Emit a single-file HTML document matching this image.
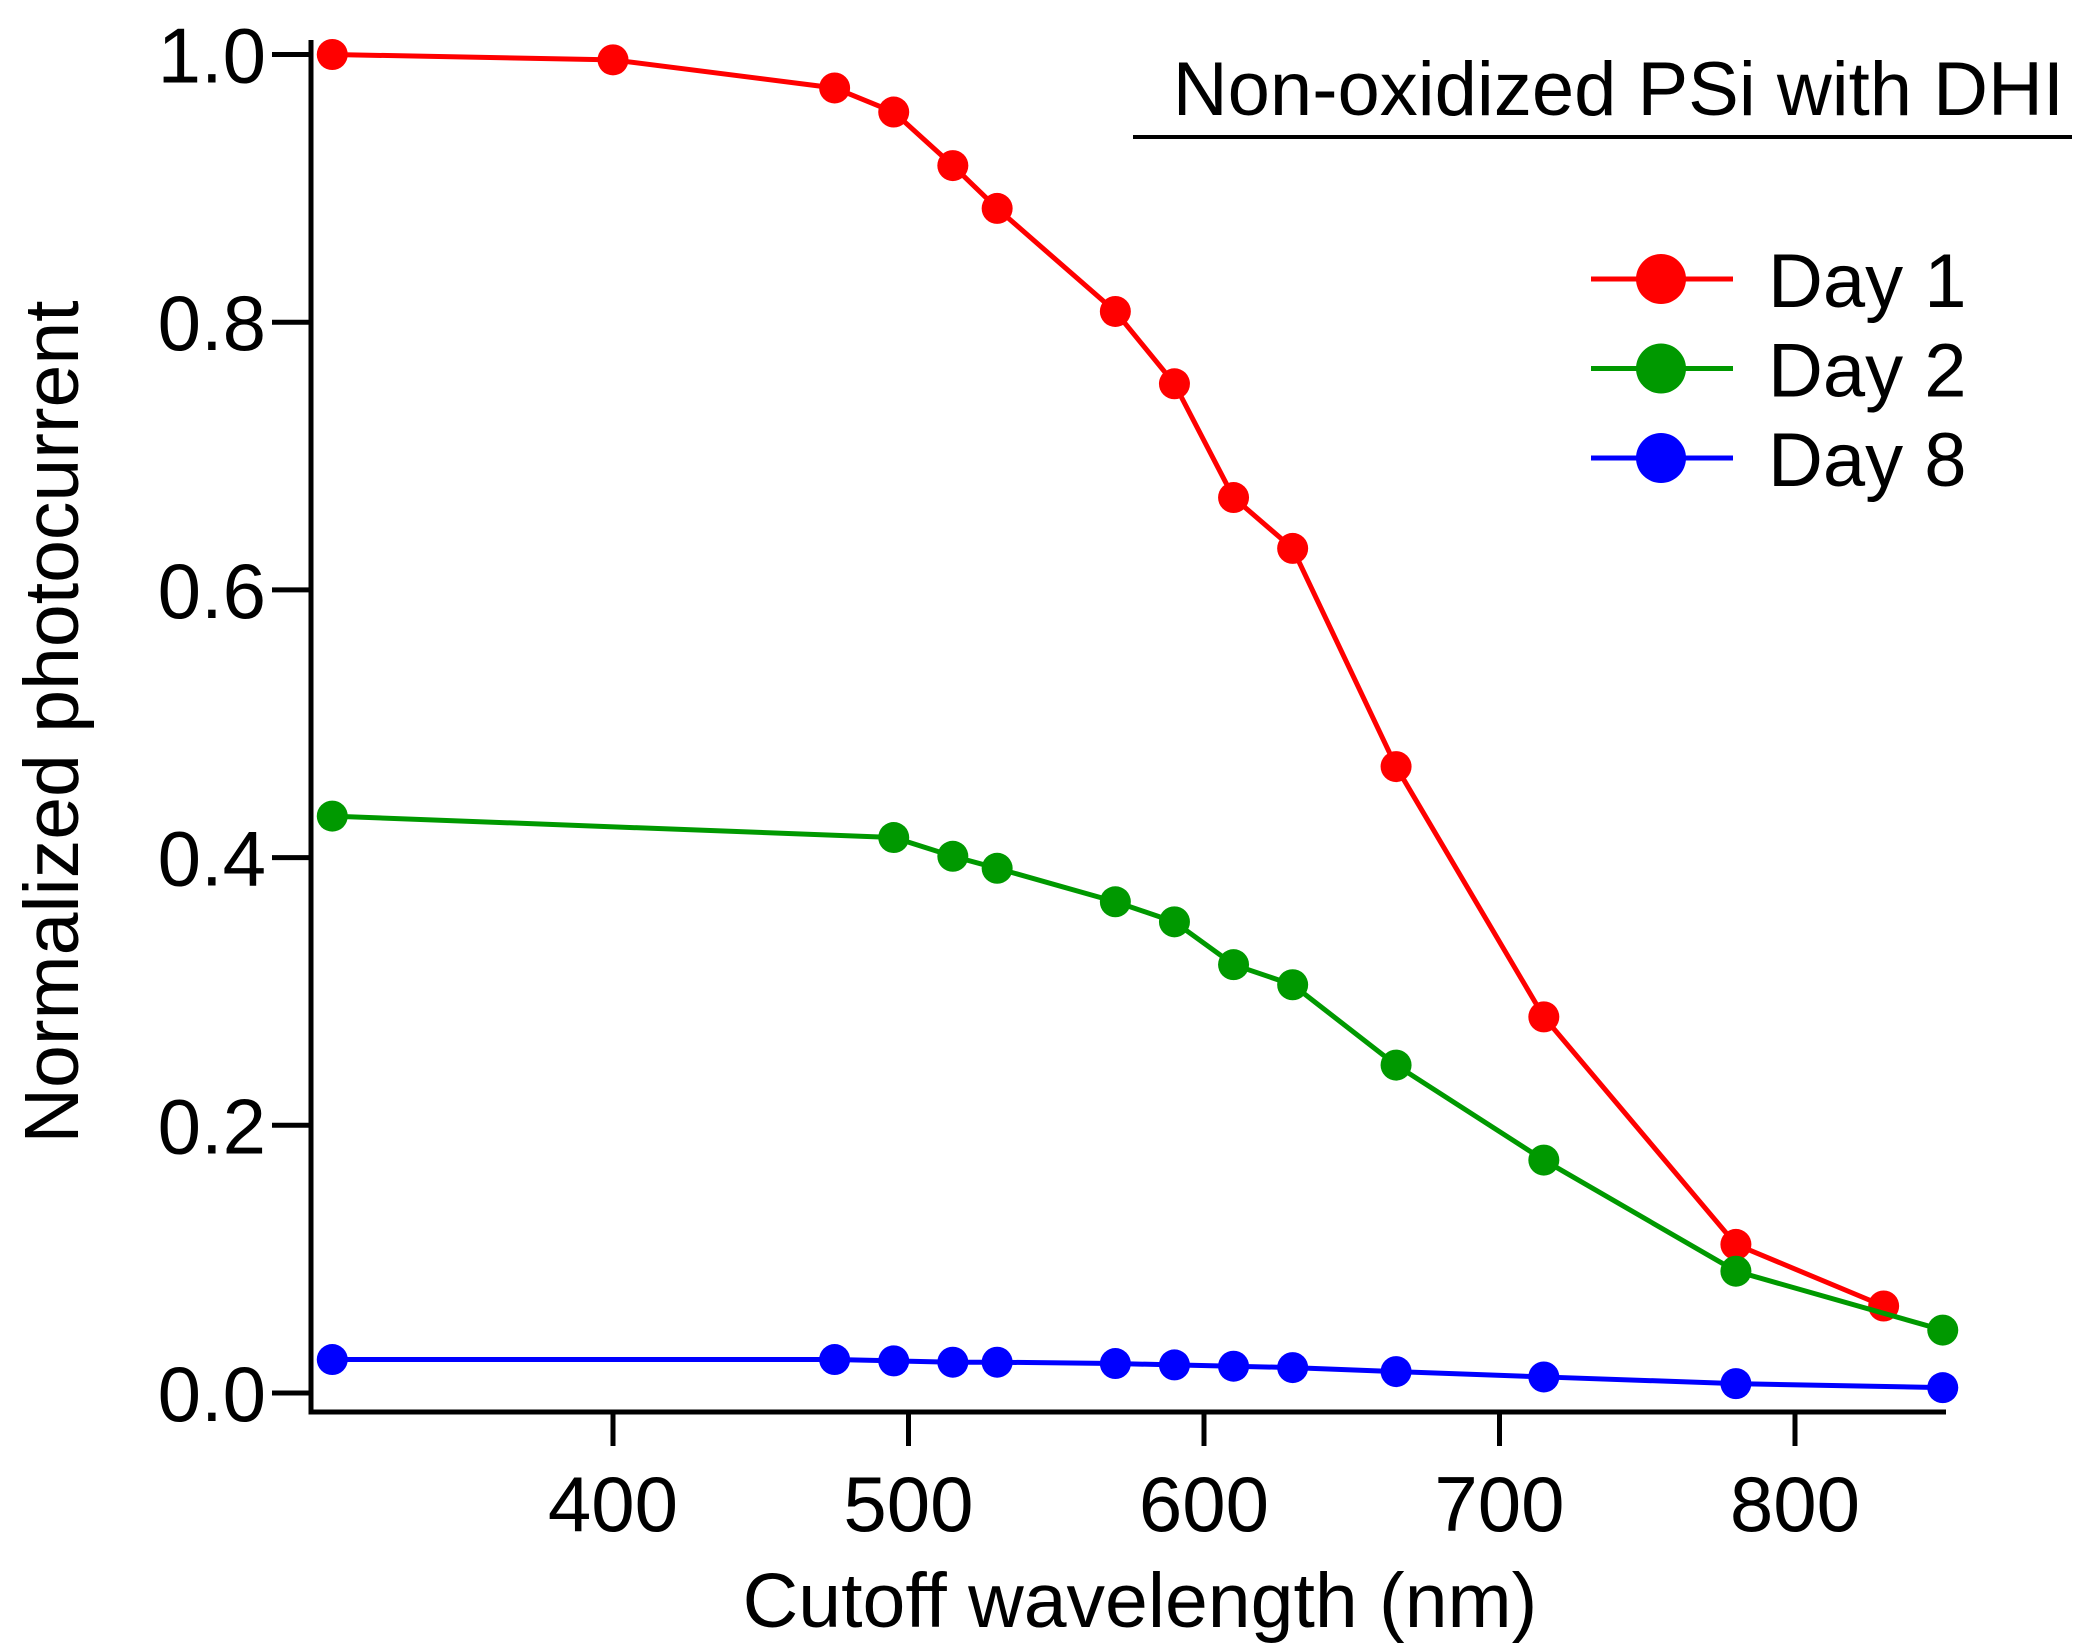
<!DOCTYPE html>
<html><head><meta charset="utf-8"><style>
html,body{margin:0;padding:0;background:#fff;}
svg{display:block;font-family:"Liberation Sans",Arial,sans-serif;}
</style></head><body>
<svg id="chart" width="2082" height="1651" viewBox="0 0 2082 1651"></svg>
<script>
const xTicks = [400, 500, 600, 700, 800];
const yTicks = [0.0, 0.2, 0.4, 0.6, 0.8, 1.0];
const day1X = [305,400,475,495,515,530,570,590,610,630,665,715,780,830];
const day1Y = [1.0,0.996,0.975,0.957,0.917,0.885,0.808,0.754,0.669,0.631,0.468,0.281,0.111,0.065];
const day2X = [305,495,515,530,570,590,610,630,665,715,780,850];
const day2Y = [0.431,0.415,0.401,0.392,0.367,0.352,0.320,0.305,0.245,0.174,0.091,0.047];
const day8X = [305,475,495,515,530,570,590,610,630,665,715,780,850];
const day8Y = [0.025,0.025,0.024,0.023,0.023,0.022,0.021,0.020,0.019,0.016,0.012,0.007,0.004];
const seriesNames = ["Day 1","Day 2","Day 8"];

const NS="http://www.w3.org/2000/svg";
const svg=document.getElementById('chart');
function xs(v){return 613+(v-400)*2.955;}
function ys(v){return 1393-v*1338.5;}
function mk(tag,attrs,parent){const e=document.createElementNS(NS,tag);for(const k in attrs)e.setAttribute(k,attrs[k]);(parent||svg).appendChild(e);return e;}

const axes=mk('path',{d:'M311 40 V1412 H1946',fill:'none',stroke:'#000','stroke-width':5});



xTicks.forEach(t=>{
  const l=mk('line',{x1:xs(t),x2:xs(t),y1:1412,y2:1446,stroke:'#000','stroke-width':5});
  
  
  const tx=mk('text',{x:xs(t),y:1531,'font-size':78,'text-anchor':'middle'});
  tx.textContent=t;
  
  
});
yTicks.forEach(t=>{
  const l=mk('line',{x1:272,x2:311,y1:ys(t),y2:ys(t),stroke:'#000','stroke-width':5});
  
  
  const tx=mk('text',{x:266,y:ys(t)+28,'font-size':78,'text-anchor':'end'});
  tx.textContent=t.toFixed(1);
  
  
});

const xt=mk('text',{x:1140,y:1627,'font-size':77,'text-anchor':'middle'});
xt.textContent='Cutoff wavelength (nm)';


const yt=mk('text',{x:0,y:0,'font-size':77,'text-anchor':'middle',transform:'translate(78,722) rotate(-90)'});
yt.textContent='Normalized photocurrent';



const title=mk('text',{x:2064,y:115,'font-size':76,'text-anchor':'end'});
title.textContent='Non-oxidized PSi with DHI';


const ul=mk('line',{x1:1133,x2:2072,y1:137,y2:137,stroke:'#000','stroke-width':4});



const colors=['#ff0000','#009900','#0000ff'];
const allX=[day1X,day2X,day8X], allY=[day1Y,day2Y,day8Y];
const keys=['day-1','day-2','day-8'];
allX.forEach((xa,i)=>{
  const g=mk('g',{});
  
  
  const pts=xa.map((x,j)=>xs(x)+','+ys(allY[i][j])).join(' ');
  const pl=mk('polyline',{points:pts,fill:'none',stroke:colors[i],'stroke-width':5},g);
  
  
  xa.forEach((x,j)=>{
    const c=mk('circle',{cx:xs(x),cy:ys(allY[i][j]),r:15.5,fill:colors[i]},g);
    
    
  });
  const ly=279+i*89.5;
  const lg=mk('g',{});
  
  
  mk('line',{x1:1591,x2:1733,y1:ly,y2:ly,stroke:colors[i],'stroke-width':5},lg);
  mk('circle',{cx:1661,cy:ly,r:25,fill:colors[i]},lg);
  const t=mk('text',{x:1768,y:ly+28,'font-size':76},lg);
  t.textContent=seriesNames[i];
});
</script>
</body></html>
